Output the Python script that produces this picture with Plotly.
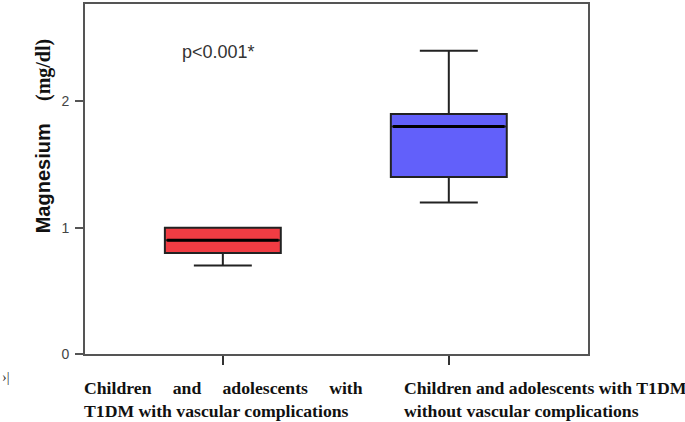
import plotly.graph_objects as go

# Data
groups = [0, 1]
NB = "\u00a0" * 4 + "\u2009"
group_labels = [
    "Children" + NB + "and" + NB + "adolescents" + NB + "with<br>T1DM with vascular complications",
    "Children and adolescents with T1DM<br>without vascular complications",
]
q1 = [0.80, 1.40]
median = [0.90, 1.80]
q3 = [1.00, 1.90]
lower_whisker = [0.70, 1.20]
upper_whisker = [1.00, 2.40]
colors = ["#f03c43", "#6260fa"]
y_ticks = [0, 1, 2]

BOX_W = 0.513

fig = go.Figure()
for i, g in enumerate(groups):
    fig.add_trace(go.Box(
        x=[g], q1=[q1[i]], median=[median[i]], q3=[q3[i]],
        lowerfence=[lower_whisker[i]], upperfence=[upper_whisker[i]],
        width=BOX_W, whiskerwidth=0.5,
        fillcolor=colors[i], line=dict(color="#222222", width=2),
        boxpoints=False, showlegend=False, hoverinfo="skip",
    ))
    # thicker median line
    fig.add_trace(go.Scatter(
        x=[g - BOX_W / 2 + 0.01, g + BOX_W / 2 - 0.01], y=[median[i], median[i]],
        mode="lines", line=dict(color="#000000", width=3),
        showlegend=False, hoverinfo="skip",
    ))

annotations = [
    dict(x=-0.02, y=2.39, xref="x", yref="y", text="p<0.001*", showarrow=False,
         font=dict(family="Liberation Sans", size=18, color="#333333"),
         xanchor="center", yanchor="middle"),
    dict(x=-0.169, y=-0.068, xref="paper", yref="paper", text="›|", showarrow=False,
         font=dict(family="Liberation Serif", size=14, color="#333333"),
         xanchor="left", yanchor="middle"),
    dict(x=-0.0835, y=0.622, xref="paper", yref="paper", textangle=-90, showarrow=False,
         text="<b>Magnesium</b>\u00a0\u00a0\u00a0\u00a0<span style='font-family:Liberation Serif'><b>(mg/dl)</b></span>",
         font=dict(family="Liberation Sans", size=20, color="#111111"),
         xanchor="center", yanchor="middle"),
]
label_x = [-0.006, 0.630]
for i, g in enumerate(groups):
    annotations.append(dict(
        x=label_x[i], y=-0.064, xref="paper", yref="paper", text="<b>" + group_labels[i] + "</b>",
        showarrow=False, align="left", xanchor="left", yanchor="top",
        font=dict(family="Liberation Serif", size=17.7, color="#111111"),
    ))

fig.update_layout(
    width=685, height=422,
    margin=dict(l=85, r=97, t=2, b=68),
    paper_bgcolor="white", plot_bgcolor="white",
    annotations=annotations,
    xaxis=dict(range=[-0.61, 1.616], tickvals=groups, ticktext=["", ""],
               ticks="outside", ticklen=9, tickcolor="#333", tickwidth=2,
               showline=True, linecolor="#555555", linewidth=2, mirror=True,
               showgrid=False, zeroline=False, fixedrange=True),
    yaxis=dict(range=[0, 2.77], tickvals=y_ticks, ticks="outside", ticklen=8,
               tickcolor="#555", tickwidth=1.5, ticklabelstandoff=3,
               tickfont=dict(family="Liberation Sans", size=14, color="#444"),
               showline=True, linecolor="#555555", linewidth=2, mirror=True,
               showgrid=False, zeroline=False),
)

fig.write_html("out.html", config={"displayModeBar": False},
               post_script="document.body.style.margin='0px';")
